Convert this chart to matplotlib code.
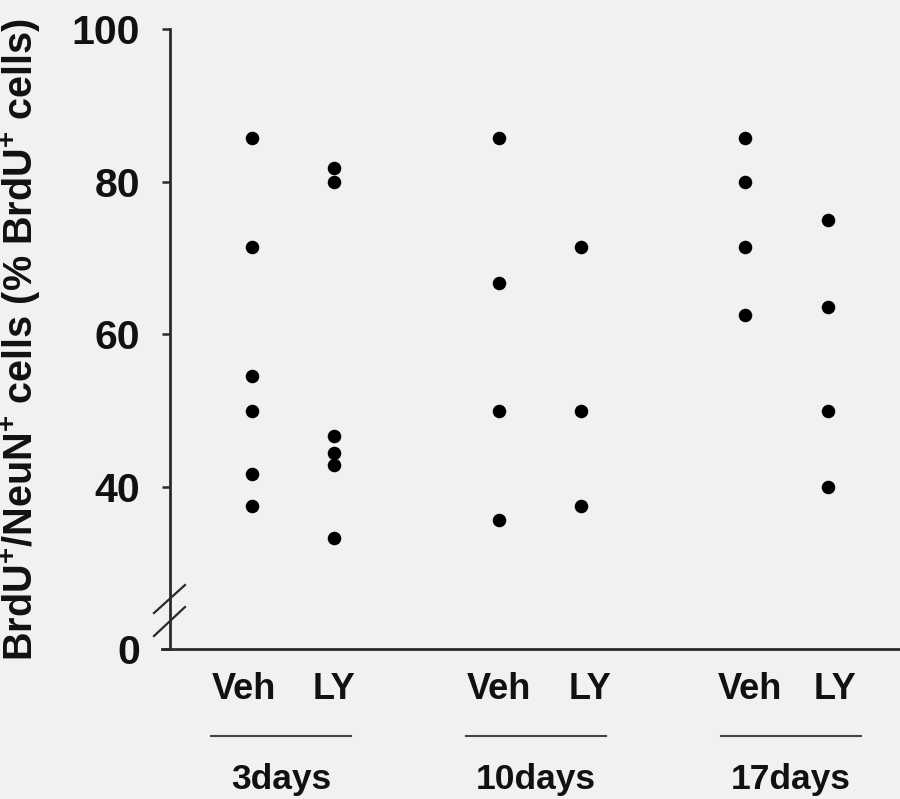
import matplotlib
matplotlib.use("Agg")
import matplotlib.pyplot as plt
from matplotlib.lines import Line2D
import matplotlib.transforms as mtransforms

plt.rcParams['font.family'] = ['Liberation Sans', 'DejaVu Sans']
plt.rcParams['font.weight'] = 'bold'
plt.rcParams['mathtext.fontset'] = 'custom'
plt.rcParams['mathtext.rm'] = 'Liberation Sans:bold'
plt.rcParams['mathtext.bf'] = 'Liberation Sans:bold'

# Survival time groups and treatments
groups = ['3days', '10days', '17days']
treatments = ['Veh', 'LY']

# BrdU+/NeuN+ cells as % of BrdU+ cells, one list per group and treatment
veh_3d = [85.7, 71.4, 54.5, 50.0, 41.7, 37.5]
ly_3d = [81.8, 80.0, 46.7, 44.4, 42.9, 33.3]
veh_10d = [85.7, 66.7, 50.0, 35.7]
ly_10d = [71.4, 50.0, 37.5]
veh_17d = [85.7, 80.0, 71.4, 62.5]
ly_17d = [75.0, 63.6, 50.0, 40.0]

values = [[veh_3d, ly_3d], [veh_10d, ly_10d], [veh_17d, ly_17d]]

# y-axis: broken axis, bottom of the axis is labelled 0
ytick_values = [40, 60, 80, 100]
ytick_labels = ['40', '60', '80', '100']
y_bottom = 18.77
y_top = 100

bg = '#f1f1f1'
ink = '#111111'
axis_col = '#2a2a2a'

fig = plt.figure(figsize=(9, 7.99), dpi=100, facecolor=bg)
W, H = 900, 799
ax = fig.add_axes([170 / W, 1 - 649 / H, 1 - 170 / W, (649 - 29) / H])
ax.set_facecolor(bg)

group_step = 3
for gi, g in enumerate(groups):
    for ti, t in enumerate(treatments):
        xs = gi * group_step + ti
        ys = values[gi][ti]
        ax.scatter([xs] * len(ys), ys, s=95, color='black', zorder=3,
                   linewidths=0, clip_on=False)

ax.set_xlim(-1.0, 7.88)
ax.set_ylim(y_bottom, y_top)

for side in ['top', 'right']:
    ax.spines[side].set_visible(False)
ax.spines['left'].set_linewidth(2)
ax.spines['left'].set_color(axis_col)
ax.spines['bottom'].set_visible(False)

# bottom axis line, extending slightly left of the y axis
ax.add_line(Line2D([-0.011, 1.0], [0, 0], transform=ax.transAxes,
                   color=axis_col, lw=2, clip_on=False))

ax.set_xticks([])
ax.set_yticks([y_bottom] + ytick_values)
ax.set_yticklabels(['0'] + ytick_labels)
ax.tick_params(axis='y', length=5.5, width=1.8, color=axis_col, pad=16,
               labelsize=29.5)
for lab in ax.get_yticklabels():
    lab.set_fontweight('bold')
    lab.set_color(ink)

# axis break marks
for y0, y1 in [(613, 585), (636, 607)]:
    fig.add_artist(Line2D([154 / W, 185 / W], [1 - y0 / H, 1 - y1 / H],
                          color=axis_col, lw=1.6))

fig.text(21 / W, 1 - 339 / H,
         r'BrdU$^{\mathbf{+}}$/NeuN$^{\mathbf{+}}$ cells (% BrdU$^{\mathbf{+}}$ cells)',
         rotation=90, ha='center', va='center', fontsize=28.5,
         fontweight='bold', color=ink)

# treatment labels, underlines and group labels below the axis
trans = mtransforms.blended_transform_factory(ax.transData, ax.transAxes)
treat_nudge = [[-0.1, 0.0], [0.0, 0.11], [0.06, 0.085]]
label_shift = [-0.15, -0.05, 0.05]
for gi, g in enumerate(groups):
    for ti, t in enumerate(treatments):
        ax.text(gi * group_step + ti + treat_nudge[gi][ti], -0.066, t,
                transform=trans, ha='center', va='center', fontsize=26,
                fontweight='bold', color=ink)
    c = gi * group_step + 0.5 + label_shift[gi]
    ax.add_line(Line2D([c - 0.85, c + 0.85], [-0.140, -0.140], transform=trans,
                       color='#444444', lw=1.5, clip_on=False))
    ax.text(c, -(789 - 649) / 620, g, transform=trans, ha='center',
            va='baseline', fontsize=25.5, fontweight='bold', color=ink)

fig.savefig('out.png', dpi=100, facecolor=bg)
